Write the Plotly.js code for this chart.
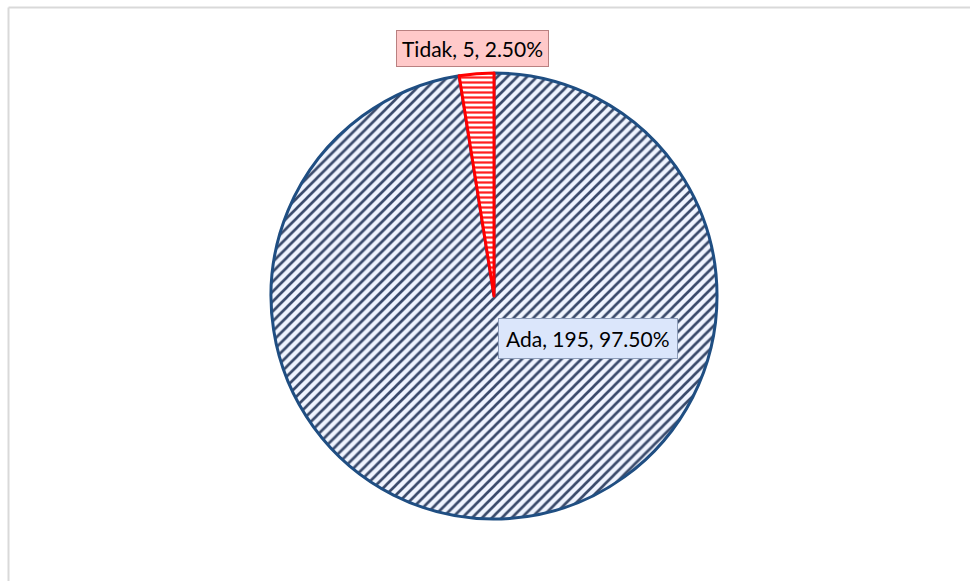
<!DOCTYPE html>
<html>
<head>
<meta charset="utf-8">
<script src="https://cdn.plot.ly/plotly-3.0.1.min.js"></script>
<style>html,body{margin:0;padding:0;background:#fff;}#chart{width:970px;height:581px;}</style>
</head>
<body>
<div id="chart"></div>
<script>
const categories = ["Ada", "Tidak"];
const counts = [195, 5];
const percentLabels = ["97.50%", "2.50%"];

const labelTexts = categories.map((c, i) => c + ", " + counts[i] + ", " + percentLabels[i]);

const trace = {
  type: "pie",
  labels: categories,
  values: counts,
  sort: false,
  direction: "clockwise",
  rotation: 0,
  textinfo: "none",
  hoverinfo: "label+value+percent",
  showlegend: false,
  domain: {x: [0.2794, 0.7392], y: [0.1067, 0.8744]},
  marker: {
    colors: ["#eef4ff", "#ffffff"],
    line: {color: ["#1f4e82", "#ff0000"], width: 3},
    pattern: {
      shape: ["/", "-"],
      fgcolor: ["#3a4a6a", "#ff2020"],
      bgcolor: ["#f0f5ff", "#ffffff"],
      size: [7, 5],
      solidity: [0.38, 0.45],
      fillmode: "replace"
    }
  }
};

const layout = {
  width: 970,
  height: 581,
  margin: {l: 0, r: 0, t: 0, b: 0},
  paper_bgcolor: "#ffffff",
  showlegend: false,
  shapes: [
    {type: "line", xref: "paper", yref: "paper", x0: 8.5/970, x1: 1, y0: 1 - 7.5/581, y1: 1 - 7.5/581, line: {color: "#d9d9d9", width: 2}},
    {type: "line", xref: "paper", yref: "paper", x0: 8.5/970, x1: 8.5/970, y0: 0, y1: 1 - 7.5/581, line: {color: "#d9d9d9", width: 2}}
  ],
  annotations: [
    {
      text: labelTexts[1], xref: "paper", yref: "paper",
      x: 472/970, y: 1 - 49/581, xanchor: "center", yanchor: "middle",
      showarrow: false, font: {family: "Lato, 'Open Sans', sans-serif", size: 21, color: "#000"},
      bgcolor: "#ffc9c9", bordercolor: "#b98080", borderwidth: 1, borderpad: 5
    },
    {
      text: labelTexts[0], xref: "paper", yref: "paper",
      x: 588/970, y: 1 - 338/581, xanchor: "center", yanchor: "middle",
      showarrow: false, font: {family: "Lato, 'Open Sans', sans-serif", size: 21, color: "#000"},
      bgcolor: "#dbe6fb", bordercolor: "#8c9cb8", borderwidth: 1, borderpad: 7
    }
  ]
};

Plotly.newPlot("chart", [trace], layout, {displayModeBar: false, staticPlot: true});
</script>
</body>
</html>
